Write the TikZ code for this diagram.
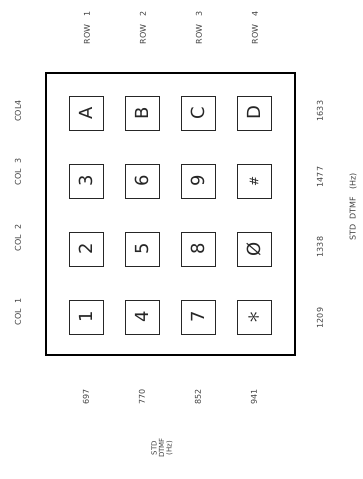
\documentclass[tikz,border=0pt]{standalone}
\usepackage{fontspec}
\setsansfont{DejaVu Sans}
\begin{document}
\begin{tikzpicture}[x=1pt,y=-1pt,
  keybox/.style={draw, black!85, line width=0.9pt, minimum size=34pt, inner sep=0pt, rotate=90,
    font=\sffamily\fontsize{18}{18}\selectfont},
  lbl/.style={rotate=90, inner sep=0pt, text=black!75, font=\sffamily\fontsize{8}{9}\selectfont},
  frame/.style={draw, line width=2pt}]
\useasboundingbox (0,0) rectangle (362,479);
\node[frame, minimum width=249pt, minimum height=282pt, inner sep=0pt] (case) at (170.5,214) {};
% keys
\node[keybox] (kA) at (86,113) {A};
\node[keybox] (kB) at (142,113) {B};
\node[keybox] (kC) at (198,113) {C};
\node[keybox] (kD) at (254,113) {D};
\node[keybox] (k3) at (86,181) {3};
\node[keybox] (k6) at (142,181) {6};
\node[keybox] (k9) at (198,181) {9};
\node[keybox] (kH) at (254,181) {\fontsize{12}{12}\selectfont\#};
\node[keybox] (k2) at (86,249) {2};
\node[keybox] (k5) at (142,249) {5};
\node[keybox] (k8) at (198,249) {8};
\node[keybox] (k0) at (254,249) {Ø};
\node[keybox] (k1) at (86,317) {1};
\node[keybox] (k4) at (142,317) {4};
\node[keybox] (k7) at (198,317) {7};
\node[keybox] (kS) at (254,317) {\fontsize{30}{30}\selectfont$\ast$};
% row labels
\node[lbl] (r1) at (87,28) {ROW\ \ \ 1};
\node[lbl] (r2) at (143,28) {ROW\ \ \ 2};
\node[lbl] (r3) at (199,28) {ROW\ \ \ 3};
\node[lbl] (r4) at (255,28) {ROW\ \ \ 4};
% column labels
\node[lbl] (c4) at (18,111) {COL4};
\node[lbl] (c3) at (18,172) {COL\ \ 3};
\node[lbl] (c2) at (18,238) {COL\ \ 2};
\node[lbl] (c1) at (18,312) {COL\ \ 1};
% column frequencies
\node[lbl] (f1633) at (320,111) {1633};
\node[lbl] (f1477) at (320,177) {1477};
\node[lbl] (f1338) at (320,247) {1338};
\node[lbl] (f1209) at (320,318) {1209};
\node[lbl] (stdc) at (353,207) {STD\ \ DTMF\ \ \ (Hz)};
% row frequencies
\node[lbl] (f697) at (86,397) {697};
\node[lbl] (f770) at (142,397) {770};
\node[lbl] (f852) at (198,397) {852};
\node[lbl] (f941) at (254,397) {941};
\node[lbl, align=center, font=\sffamily\fontsize{7}{7.5}\selectfont] (stdr) at (162,448) {STD\\DTMF\\(Hz)};
\end{tikzpicture}
\end{document}
